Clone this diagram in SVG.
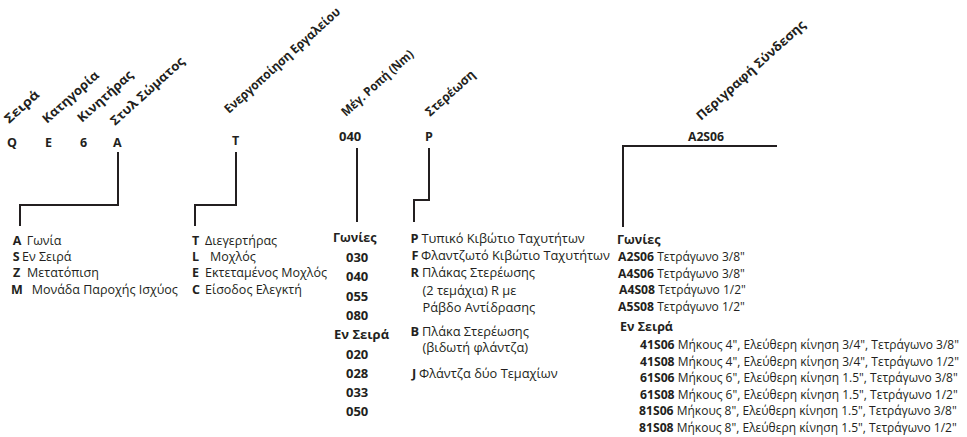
<svg xmlns="http://www.w3.org/2000/svg" width="967" height="437" viewBox="0 0 967 437">
<style>
text{font-family:"Open Sans","Noto Sans","Liberation Sans",sans-serif;fill:#231f20;font-size:12.5px}
.b{font-weight:700}
.h{font-weight:700;font-size:12.5px}
.n{font-weight:700;font-size:13px}
.m{font-size:12.8px}
.s{font-size:12px}
.c{font-weight:700;font-size:12.2px}
.ln{fill:none;stroke:#231f20;stroke-width:2}
</style>
<rect width="967" height="437" fill="#fff"/>
<g id="headers">
<text class="h" transform="translate(9,124) rotate(-42)" textLength="42" lengthAdjust="spacingAndGlyphs">Σειρά</text>
<text class="h" transform="translate(47,124) rotate(-42)" textLength="71" lengthAdjust="spacingAndGlyphs">Κατηγορία</text>
<text class="h" transform="translate(82,123) rotate(-42)" textLength="70" lengthAdjust="spacingAndGlyphs">Κινητήρας</text>
<text class="h" transform="translate(115,126) rotate(-42)" textLength="95" lengthAdjust="spacingAndGlyphs">Στυλ Σώματος</text>
<text class="h" transform="translate(229,114) rotate(-42)" textLength="151" lengthAdjust="spacingAndGlyphs">Ενεργοποίηση Εργαλείου</text>
<text class="h" transform="translate(346,117) rotate(-42)" textLength="92" lengthAdjust="spacingAndGlyphs">Μέγ. Ροπή (Nm)</text>
<text class="h" transform="translate(430,117) rotate(-42)" textLength="62" lengthAdjust="spacingAndGlyphs">Στερέωση</text>
<text class="h" transform="translate(701,121) rotate(-42)" textLength="142" lengthAdjust="spacingAndGlyphs">Περιγραφή Σύνδεσης</text>
</g>
<g id="codes">
<text class="b" x="7" y="147">Q</text>
<text class="b" x="45" y="147">E</text>
<text class="b" x="80" y="147">6</text>
<text class="b" x="113" y="147">A</text>
<text class="b" x="232" y="145">T</text>
<text class="n" x="339" y="141">040</text>
<text class="b" x="425" y="141">P</text>
<text class="c" x="706" y="141" text-anchor="middle">A2S06</text>
</g>
<g id="connectors">
<path class="ln" d="M118,152 V205 H20 V226"/>
<path class="ln" d="M236,152 V205 H195 V226"/>
<path class="ln" d="M357,148 V222"/>
<path class="ln" d="M429,148 V200 H414 V222"/>
<path class="ln" d="M777,146 H623 V227"/>
</g>
<g id="body-style">
<text y="244.5"><tspan class="b" x="12.7">A</tspan><tspan x="26.7">Γωνία</tspan></text>
<text y="261"><tspan class="b" x="12.7">S</tspan><tspan x="22">Εν Σειρά</tspan></text>
<text y="277"><tspan class="b" x="13">Z</tspan><tspan x="27">Μετατόπιση</tspan></text>
<text y="294"><tspan class="b" x="11">M</tspan><tspan x="31.7">Μονάδα Παροχής Ισχύος</tspan></text>
</g>
<g id="tool-actuation">
<text y="244.5"><tspan class="b" x="192">T</tspan><tspan x="205">Διεγερτήρας</tspan></text>
<text y="261"><tspan class="b" x="192">L</tspan><tspan x="210">Μοχλός</tspan></text>
<text y="277"><tspan class="b" x="192">E</tspan><tspan x="205">Εκτεταμένος Μοχλός</tspan></text>
<text y="294"><tspan class="b" x="192">C</tspan><tspan x="205">Είσοδος Ελεγκτή</tspan></text>
</g>
<g id="torque">
<text class="b" x="333" y="242">Γωνίες</text>
<text class="n" x="346" y="261.5">030</text>
<text class="n" x="346" y="281">040</text>
<text class="n" x="346" y="300.5">055</text>
<text class="n" x="346" y="320">080</text>
<text class="n" x="334" y="339">Εν Σειρά</text>
<text class="n" x="346" y="358.5">020</text>
<text class="n" x="346" y="377.5">028</text>
<text class="n" x="346" y="396.5">033</text>
<text class="n" x="346" y="415.5">050</text>
</g>
<g id="mounting">
<text class="m" y="242.5"><tspan class="b" x="410.5">P</tspan><tspan x="421.5">Τυπικό Κιβώτιο Ταχυτήτων</tspan></text>
<text class="m" y="259.5"><tspan class="b" x="411.5">F</tspan><tspan x="421">Φλαντζωτό Κιβώτιο Ταχυτήτων</tspan></text>
<text class="m" y="276.5"><tspan class="b" x="410.5">R</tspan><tspan x="422">Πλάκας Στερέωσης</tspan></text>
<text class="m" x="422.5" y="294.5">(2 τεμάχια) R με</text>
<text class="m" x="422.5" y="311.5">Ράβδο Αντίδρασης</text>
<text class="m" y="335.5"><tspan class="b" x="410.5">B</tspan><tspan x="422">Πλάκα Στερέωσης</tspan></text>
<text class="m" x="422.5" y="352">(βιδωτή φλάντζα)</text>
<text class="m" y="378"><tspan class="b" x="412">J</tspan><tspan x="419">Φλάντζα δύο Τεμαχίων</tspan></text>
</g>
<g id="connection">
<text class="b" x="617" y="244">Γωνίες</text>
<text class="s" y="261"><tspan class="c" x="618">A2S06</tspan> Τετράγωνο 3/8"</text>
<text class="s" y="277.5"><tspan class="c" x="618">A4S06</tspan> Τετράγωνο 3/8"</text>
<text class="s" y="294"><tspan class="c" x="619">A4S08</tspan> Τετράγωνο 1/2"</text>
<text class="s" y="310.5"><tspan class="c" x="618">A5S08</tspan> Τετράγωνο 1/2"</text>
<text class="b" x="620" y="331">Εν Σειρά</text>
<text class="s" y="349"><tspan class="c" x="640">41S06</tspan> Μήκους 4", Ελεύθερη κίνηση 3/4", Τετράγωνο 3/8"</text>
<text class="s" y="365.5"><tspan class="c" x="640">41S08</tspan> Μήκους 4", Ελεύθερη κίνηση 3/4", Τετράγωνο 1/2"</text>
<text class="s" y="382"><tspan class="c" x="640">61S06</tspan> Μήκους 6", Ελεύθερη κίνηση 1.5", Τετράγωνο 3/8"</text>
<text class="s" y="398.5"><tspan class="c" x="640">61S08</tspan> Μήκους 6", Ελεύθερη κίνηση 1.5", Τετράγωνο 1/2"</text>
<text class="s" y="415"><tspan class="c" x="639">81S06</tspan> Μήκους 8", Ελεύθερη κίνηση 1.5", Τετράγωνο 3/8"</text>
<text class="s" y="431.5"><tspan class="c" x="639">81S08</tspan> Μήκους 8", Ελεύθερη κίνηση 1.5", Τετράγωνο 1/2"</text>
</g>
</svg>
